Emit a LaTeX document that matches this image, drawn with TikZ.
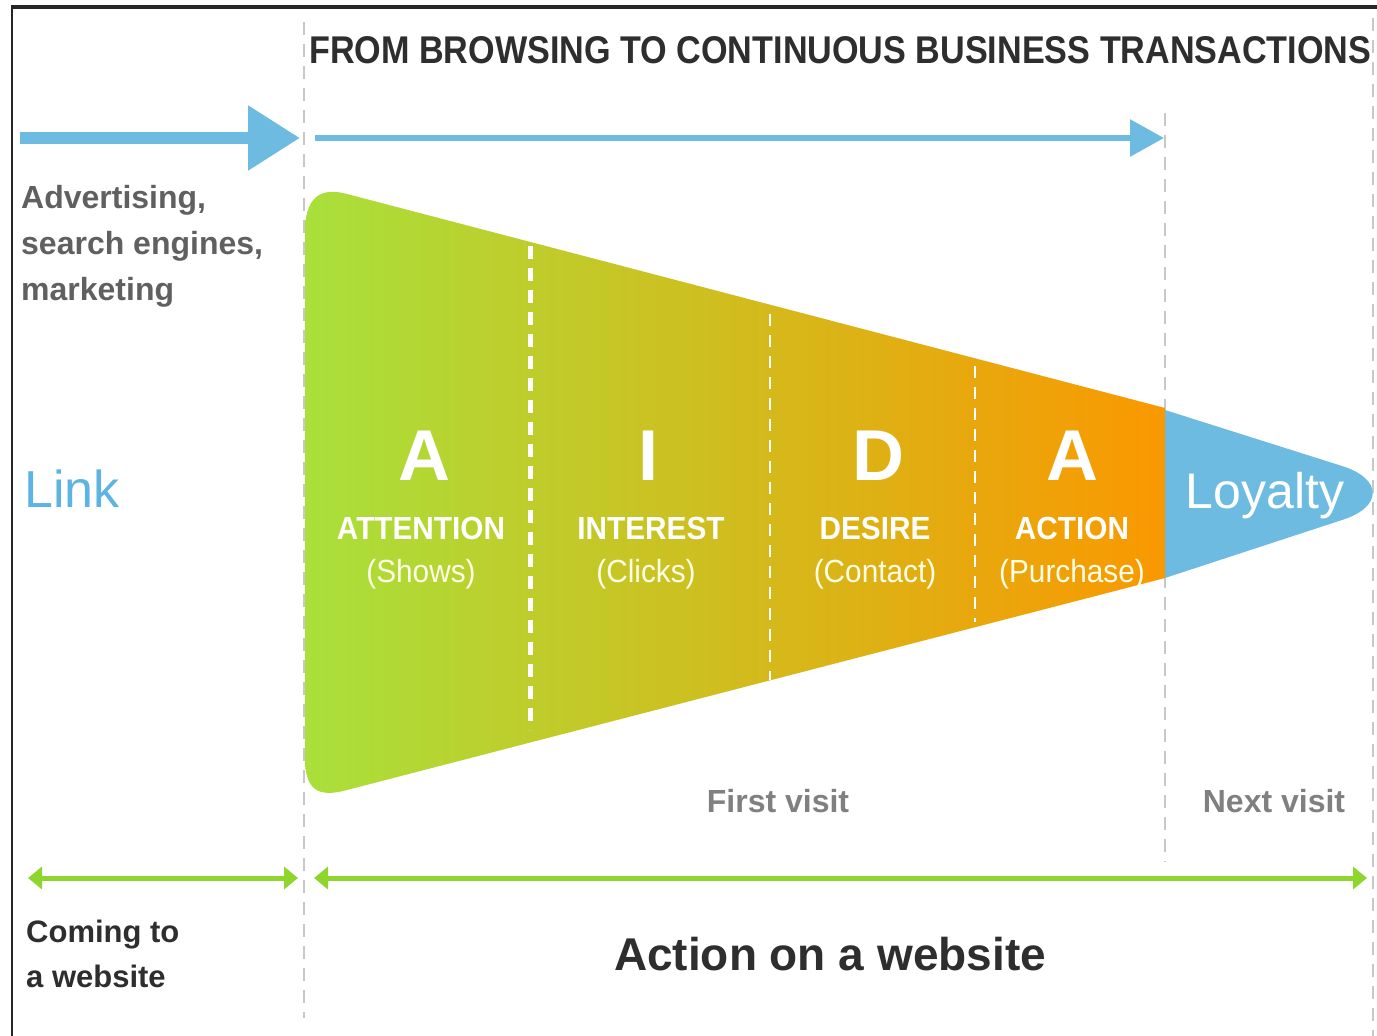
\documentclass[tikz,border=0pt]{standalone}
\usepackage{fontspec}
\setmainfont{Liberation Sans}
\usetikzlibrary{arrows.meta}
\definecolor{skyblue}{HTML}{6DBBE0}
\definecolor{linkblue}{HTML}{5DB4E2}
\definecolor{lime}{HTML}{8ED62E}
\definecolor{gleft}{HTML}{A9E03B}
\definecolor{gmid}{HTML}{D4BC22}
\definecolor{gright}{HTML}{FA9800}
\definecolor{guide}{HTML}{C8C8C8}
\definecolor{txtgray}{HTML}{606060}
\definecolor{txtdark}{HTML}{2E2E2E}
\newcommand\fsz[1]{\fontsize{#1}{#1}\selectfont}
\begin{document}
\begin{tikzpicture}[x=1pt,y=-1pt,
  guideline/.style={guide, line width=2.5pt, dash pattern=on 13pt off 9pt},
  splitline/.style={white, line width=2.5pt, dash pattern=on 12pt off 9pt},
  bigletter/.style={text=white, font=\fsz{72}\bfseries, anchor=base, inner sep=0},
  stagename/.style={text=white, font=\fsz{32}\bfseries, anchor=base, inner sep=0},
  stagesub/.style={text=white!90!yellow, font=\fsz{32}, anchor=base, inner sep=0},
  visit/.style={text=black!50, font=\fsz{32}\bfseries, anchor=base, inner sep=0},
  bluearrow/.style={skyblue},
  greenarrow/.style={lime, line width=5pt, {Triangle[length=14pt,width=22pt]}-{Triangle[length=14pt,width=22pt]}}
]
\useasboundingbox (0,0) rectangle (1377,1036);
\fill[white] (0,0) rectangle (1377,1036);

% guide lines
\draw[guideline] (304,22) -- (304,1018);
\draw[guideline] (1165,113) -- (1165,862);
\draw[guideline] (1373,18) -- (1373,1036);

% frame
\draw[black!85, line width=2.5pt] (12,1036) -- (12,7);
\draw[black!85, line width=4pt] (11,7) -- (1377,7);

% title
\node[anchor=west, inner sep=0, text=txtdark] (title) at (309,50)
  {\resizebox{1062pt}{27pt}{\bfseries FROM BROWSING TO CONTINUOUS BUSINESS TRANSACTIONS}};

% blue arrows
\coordinate (b1s) at (20,138);
\coordinate (b1e) at (300,138);
\coordinate (b2s) at (315,138);
\coordinate (b2e) at (1164,138);
\draw[bluearrow, line width=12pt, -{Triangle[length=52pt,width=62pt]}] (b1s) -- (b1e);
\draw[bluearrow, line width=6pt, -{Triangle[length=34pt,width=36pt]}] (b2s) -- (b2e);

% left texts
\node[anchor=north west, inner sep=0, align=left, text=txtgray,
  font=\fsz{32}\bfseries] (adv) at (21,185)
  {Advertising,\\[14pt]search engines,\\[14pt]marketing};
\node[anchor=base west, inner sep=0, text=linkblue, font=\fsz{52}] (link) at (24,507) {Link};

% funnel
\shade[left color=gleft, middle color=gmid, right color=gright]
  (1165,578) -- (1165,408) -- (347,194)
  .. controls (318,186) and (305,200) .. (305,232)
  -- (305,758)
  .. controls (305,790) and (318,798) .. (347,790) -- cycle;

% loyalty shape
\fill[skyblue] (1165,410) -- (1342,466) .. controls (1383,479) and (1383,507) .. (1342,520) -- (1165,578) -- cycle;

% white split lines
\draw[splitline, line width=5pt, dash pattern=on 13pt off 9pt] (530,246) -- (530,730);
\draw[splitline] (770,314) -- (770,680);
\draw[splitline] (975,366) -- (975,622);

% stage texts
\node[bigletter] (l1) at (424,480) {A};
\node[stagename] (n1) at (421,539) {\scalebox{0.93}[1]{ATTENTION}};
\node[stagesub] (s1) at (421,582) {\scalebox{0.93}[1]{(Shows)}};
\node[bigletter] (l2) at (648,480) {I};
\node[stagename] (n2) at (651,539) {\scalebox{0.93}[1]{INTEREST}};
\node[stagesub] (s2) at (646,582) {\scalebox{0.93}[1]{(Clicks)}};
\node[bigletter] (l3) at (878,480) {D};
\node[stagename] (n3) at (875,539) {\scalebox{0.93}[1]{DESIRE}};
\node[stagesub] (s3) at (875,582) {\scalebox{0.93}[1]{(Contact)}};
\node[bigletter] (l4) at (1072,480) {A};
\node[stagename] (n4) at (1072,539) {\scalebox{0.93}[1]{ACTION}};
\node[stagesub] (s4) at (1072,582) {\scalebox{0.93}[1]{(Purchase)}};
\node[anchor=base, inner sep=0, text=white, font=\fsz{50}] (loyal) at (1265,508) {Loyalty};

% visits
\node[visit] (first) at (778,812) {First visit};
\node[visit] (next) at (1274,812) {Next visit};

% green arrows
\coordinate (g1s) at (28,878);
\coordinate (g1e) at (298,878);
\coordinate (g2s) at (314,878);
\coordinate (g2e) at (1367,878);
\draw[greenarrow] (g1s) -- (g1e);
\draw[greenarrow] (g2s) -- (g2e);

% bottom texts
\node[anchor=north west, inner sep=0, align=left, text=txtdark, font=\fsz{31}\bfseries] (coming) at (26,920)
  {Coming to\\[14pt]a website};
\node[anchor=base, inner sep=0, text=txtdark, font=\fsz{46}\bfseries] (action) at (830,970) {Action on a website};
\end{tikzpicture}
\end{document}
